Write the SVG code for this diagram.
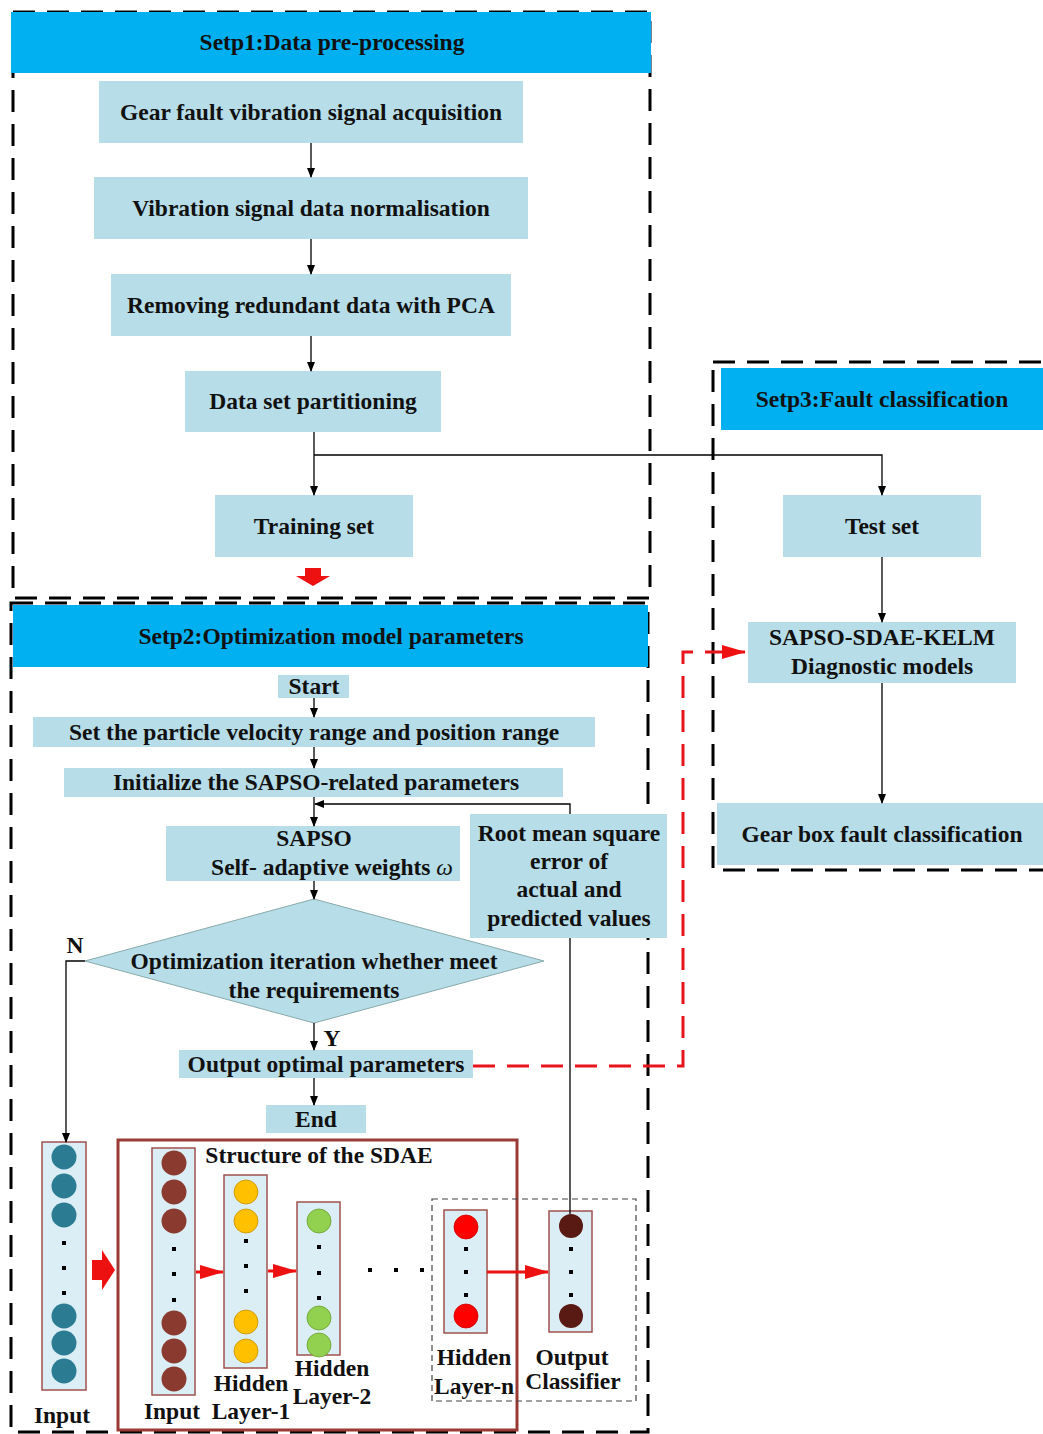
<svg xmlns="http://www.w3.org/2000/svg" width="1043" height="1434" viewBox="0 0 1043 1434">
<defs>
<style>
.box{fill:#B7DDE8;}
.hdr{fill:#00B0F0;}
.t{font-family:"Liberation Serif","Times New Roman",serif;font-weight:bold;font-size:23.5px;fill:#111;text-anchor:middle;}
.ht{font-family:"Liberation Serif","Times New Roman",serif;font-weight:bold;font-size:23.5px;fill:#111;text-anchor:middle;}
.dash{fill:none;stroke:#000;stroke-width:3;stroke-dasharray:22 12;}
.ln{fill:none;stroke:#000;stroke-width:1.3;}
.col{fill:#DCEEF5;stroke:#A0524D;stroke-width:1.5;}
.dot{fill:#000;}
.ra{fill:#EE1111;}
</style>
<marker id="ah" markerWidth="10" markerHeight="10" refX="9" refY="5" orient="auto" markerUnits="userSpaceOnUse">
<path d="M0,1 L10,5 L0,9 Z" fill="#000"/>
</marker>
<marker id="ahr" markerWidth="24" markerHeight="16" refX="23" refY="8" orient="auto" markerUnits="userSpaceOnUse">
<path d="M0,1 L24,8 L0,15 Z" fill="#EE1111"/>
</marker>
</defs>
<rect width="1043" height="1434" fill="#fff"/>

<!-- Step containers -->
<g id="step1">
<rect class="dash" x="13" y="12" width="637" height="586"/>
<rect class="hdr" x="11" y="12" width="640" height="61"/>
<text class="ht" x="332" y="50">Setp1:Data pre-processing</text>
</g>
<g id="step2">
<rect class="dash" x="11" y="603" width="637" height="829"/>
<rect class="hdr" x="13" y="605" width="635" height="62"/>
<text class="ht" x="331" y="644">Setp2:Optimization model parameters</text>
</g>
<g id="step3">
<rect class="dash" x="713" y="362" width="340" height="508"/>
<rect class="hdr" x="721" y="368" width="322" height="62"/>
<text class="ht" x="882" y="407">Setp3:Fault classification</text>
</g>

<!-- Step 1 nodes -->
<g id="n_acq"><rect class="box" x="99" y="81" width="424" height="62"/><text class="t" x="311" y="120">Gear fault vibration signal acquisition</text></g>
<g id="n_norm"><rect class="box" x="94" y="177" width="434" height="62"/><text class="t" x="311" y="216">Vibration signal data normalisation</text></g>
<g id="n_pca"><rect class="box" x="111" y="274" width="400" height="62"/><text class="t" x="311" y="313">Removing redundant data with PCA</text></g>
<g id="n_part"><rect class="box" x="185" y="371" width="256" height="61"/><text class="t" x="313" y="409">Data set partitioning</text></g>
<g id="n_train"><rect class="box" x="215" y="495" width="198" height="62"/><text class="t" x="314" y="534">Training set</text></g>

<!-- Step 3 nodes -->
<g id="n_test"><rect class="box" x="783" y="495" width="198" height="62"/><text class="t" x="882" y="534">Test set</text></g>
<g id="n_model"><rect class="box" x="748" y="622" width="268" height="61"/><text class="t" x="882" y="645">SAPSO-SDAE-KELM</text><text class="t" x="882" y="674">Diagnostic models</text></g>
<g id="n_gear"><rect class="box" x="717" y="803" width="326" height="62"/><text class="t" x="882" y="842">Gear box fault classification</text></g>

<!-- Step 2 nodes -->
<g id="n_start"><rect class="box" x="278" y="675" width="71" height="23"/><text class="t" x="314" y="694">Start</text></g>
<g id="n_set"><rect class="box" x="33" y="717" width="562" height="30"/><text class="t" x="314" y="740">Set the particle velocity range and position range</text></g>
<g id="n_init"><rect class="box" x="64" y="768" width="499" height="29"/><text class="t" x="316" y="790">Initialize the SAPSO-related parameters</text></g>
<g id="n_sapso"><rect class="box" x="166" y="826" width="294" height="55"/><text class="t" x="314" y="846">SAPSO</text><text class="t" x="332" y="875">Self- adaptive weights <tspan font-style="italic" font-weight="normal">ω</tspan></text></g>
<g id="n_rmse"><rect class="box" x="470" y="814" width="197" height="124"/><text class="t" x="569" y="841">Root mean square</text><text class="t" x="569" y="869">error of</text><text class="t" x="569" y="897">actual and</text><text class="t" x="569" y="926">predicted values</text></g>
<g id="n_dec"><polygon points="314,899 544,961 314,1023 85,961" fill="#B7DDE8" stroke="#8AA" stroke-width="1"/><text class="t" x="314" y="969">Optimization iteration whether meet</text><text class="t" x="314" y="998">the requirements</text></g>
<g id="n_out"><rect class="box" x="179" y="1050" width="294" height="28"/><text class="t" x="326" y="1072">Output optimal parameters</text></g>
<g id="n_end"><rect class="box" x="266" y="1105" width="100" height="28"/><text class="t" x="316" y="1127">End</text></g>

<!-- Labels N / Y -->
<text class="t" x="75" y="953">N</text>
<text class="t" x="332" y="1046">Y</text>

<!-- SDAE structure -->
<g id="n_input">
<rect class="col" x="42" y="1142" width="44" height="248"/>
<g fill="#2B7C93"><circle cx="64" cy="1157" r="12.5"/><circle cx="64" cy="1186" r="12.5"/><circle cx="64" cy="1215" r="12.5"/><circle cx="64" cy="1316" r="12.5"/><circle cx="64" cy="1343" r="12.5"/><circle cx="64" cy="1371" r="12.5"/></g>
<rect class="dot" x="62" y="1241" width="4" height="4"/><rect class="dot" x="62" y="1266" width="4" height="4"/><rect class="dot" x="62" y="1291" width="4" height="4"/>
<text class="t" x="62" y="1423">Input</text>
</g>
<polygon class="ra" points="92,1260 102,1260 102,1250 115,1270 102,1290 102,1280 92,1280"/>
<g id="n_sdae">
<rect x="118" y="1140" width="399" height="290" fill="none" stroke="#9A3A34" stroke-width="3"/>
<text class="t" x="319" y="1163">Structure of the SDAE</text>
</g>
<g id="n_in2">
<rect class="col" x="152" y="1148" width="43" height="247"/>
<g fill="#8B3A30"><circle cx="174" cy="1163" r="12.5"/><circle cx="174" cy="1192" r="12.5"/><circle cx="174" cy="1221" r="12.5"/><circle cx="174" cy="1323" r="12.5"/><circle cx="174" cy="1351" r="12.5"/><circle cx="174" cy="1379" r="12.5"/></g>
<rect class="dot" x="172" y="1247" width="4" height="4"/><rect class="dot" x="172" y="1272" width="4" height="4"/><rect class="dot" x="172" y="1298" width="4" height="4"/>
<text class="t" x="172" y="1419">Input</text>
</g>
<g id="n_h1">
<rect class="col" x="224" y="1175" width="43" height="193"/>
<g fill="#FFC000" stroke="#C89000" stroke-width="0.8"><circle cx="246" cy="1192" r="12"/><circle cx="246" cy="1221" r="12"/><circle cx="246" cy="1322" r="12"/><circle cx="246" cy="1351" r="12"/></g>
<rect class="dot" x="244" y="1239" width="4" height="4"/><rect class="dot" x="244" y="1264" width="4" height="4"/><rect class="dot" x="244" y="1289" width="4" height="4"/>
<text class="t" x="251" y="1391">Hidden</text><text class="t" x="251" y="1419">Layer-1</text>
</g>
<g id="n_h2">
<rect class="col" x="297" y="1202" width="43" height="153"/>
<g fill="#92D050" stroke="#6AA030" stroke-width="0.8"><circle cx="319" cy="1221" r="12"/><circle cx="319" cy="1318" r="12"/><circle cx="319" cy="1345" r="12"/></g>
<rect class="dot" x="317" y="1245" width="4" height="4"/><rect class="dot" x="317" y="1271" width="4" height="4"/><rect class="dot" x="317" y="1296" width="4" height="4"/>
<text class="t" x="332" y="1376">Hidden</text><text class="t" x="332" y="1404">Layer-2</text>
</g>
<g class="dot"><rect x="368" y="1268" width="4" height="4"/><rect x="394" y="1268" width="4" height="4"/><rect x="420" y="1268" width="4" height="4"/></g>
<rect x="432" y="1199" width="204" height="202" fill="none" stroke="#444" stroke-width="1.2" stroke-dasharray="6 4"/>
<g id="n_hn">
<rect class="col" x="444" y="1210" width="43" height="123"/>
<g fill="#FF0000" stroke="#C00" stroke-width="0.8"><circle cx="466" cy="1227" r="12"/><circle cx="466" cy="1316" r="12"/></g>
<rect class="dot" x="464" y="1247" width="4" height="4"/><rect class="dot" x="464" y="1270" width="4" height="4"/><rect class="dot" x="464" y="1293" width="4" height="4"/>
<text class="t" x="474" y="1365">Hidden</text><text class="t" x="474" y="1394">Layer-n</text>
</g>
<g id="n_oc">
<rect class="col" x="549" y="1211" width="43" height="121"/>
<g fill="#5A1A14"><circle cx="571" cy="1226" r="12"/><circle cx="571" cy="1316" r="12"/></g>
<rect class="dot" x="569" y="1247" width="4" height="4"/><rect class="dot" x="569" y="1270" width="4" height="4"/><rect class="dot" x="569" y="1293" width="4" height="4"/>
<text class="t" x="572" y="1365">Output</text><text class="t" x="573" y="1389">Classifier</text>
</g>

<!-- Connectors -->
<g id="connectors">
<line class="ln" x1="311" y1="143" x2="311" y2="177" marker-end="url(#ah)"/>
<line class="ln" x1="311" y1="239" x2="311" y2="274" marker-end="url(#ah)"/>
<line class="ln" x1="311" y1="336" x2="311" y2="371" marker-end="url(#ah)"/>
<line class="ln" x1="314" y1="432" x2="314" y2="495" marker-end="url(#ah)"/>
<polyline class="ln" points="314,455 882,455 882,495" marker-end="url(#ah)"/>
<line class="ln" x1="882" y1="557" x2="882" y2="622" marker-end="url(#ah)"/>
<line class="ln" x1="882" y1="683" x2="882" y2="803" marker-end="url(#ah)"/>
<polygon class="ra" points="305,568 321,568 321,576 330,576 313,586 296,576 305,576"/>
<line class="ln" x1="314" y1="698" x2="314" y2="717" marker-end="url(#ah)"/>
<line class="ln" x1="314" y1="747" x2="314" y2="768" marker-end="url(#ah)"/>
<line class="ln" x1="314" y1="797" x2="314" y2="826" marker-end="url(#ah)"/>
<polyline class="ln" points="570,814 570,804 315,804" marker-end="url(#ah)"/>
<line class="ln" x1="314" y1="881" x2="314" y2="899" marker-end="url(#ah)"/>
<line class="ln" x1="314" y1="1023" x2="314" y2="1050" marker-end="url(#ah)"/>
<line class="ln" x1="314" y1="1078" x2="314" y2="1105" marker-end="url(#ah)"/>
<polyline class="ln" points="85,961 66,961 66,1142" marker-end="url(#ah)"/>
<line class="ln" x1="570" y1="938" x2="570" y2="1214"/>
<polyline points="473,1066 683,1066 683,652 745,652" fill="none" stroke="#E8141B" stroke-width="3" stroke-dasharray="22 12" marker-end="url(#ahr)"/>
<line x1="196" y1="1272" x2="223" y2="1272" stroke="#EE1111" stroke-width="3" marker-end="url(#ahr)"/>
<line x1="268" y1="1271" x2="296" y2="1271" stroke="#EE1111" stroke-width="3" marker-end="url(#ahr)"/>
<line x1="487" y1="1272" x2="548" y2="1272" stroke="#EE1111" stroke-width="3" marker-end="url(#ahr)"/>
</g>
</svg>
